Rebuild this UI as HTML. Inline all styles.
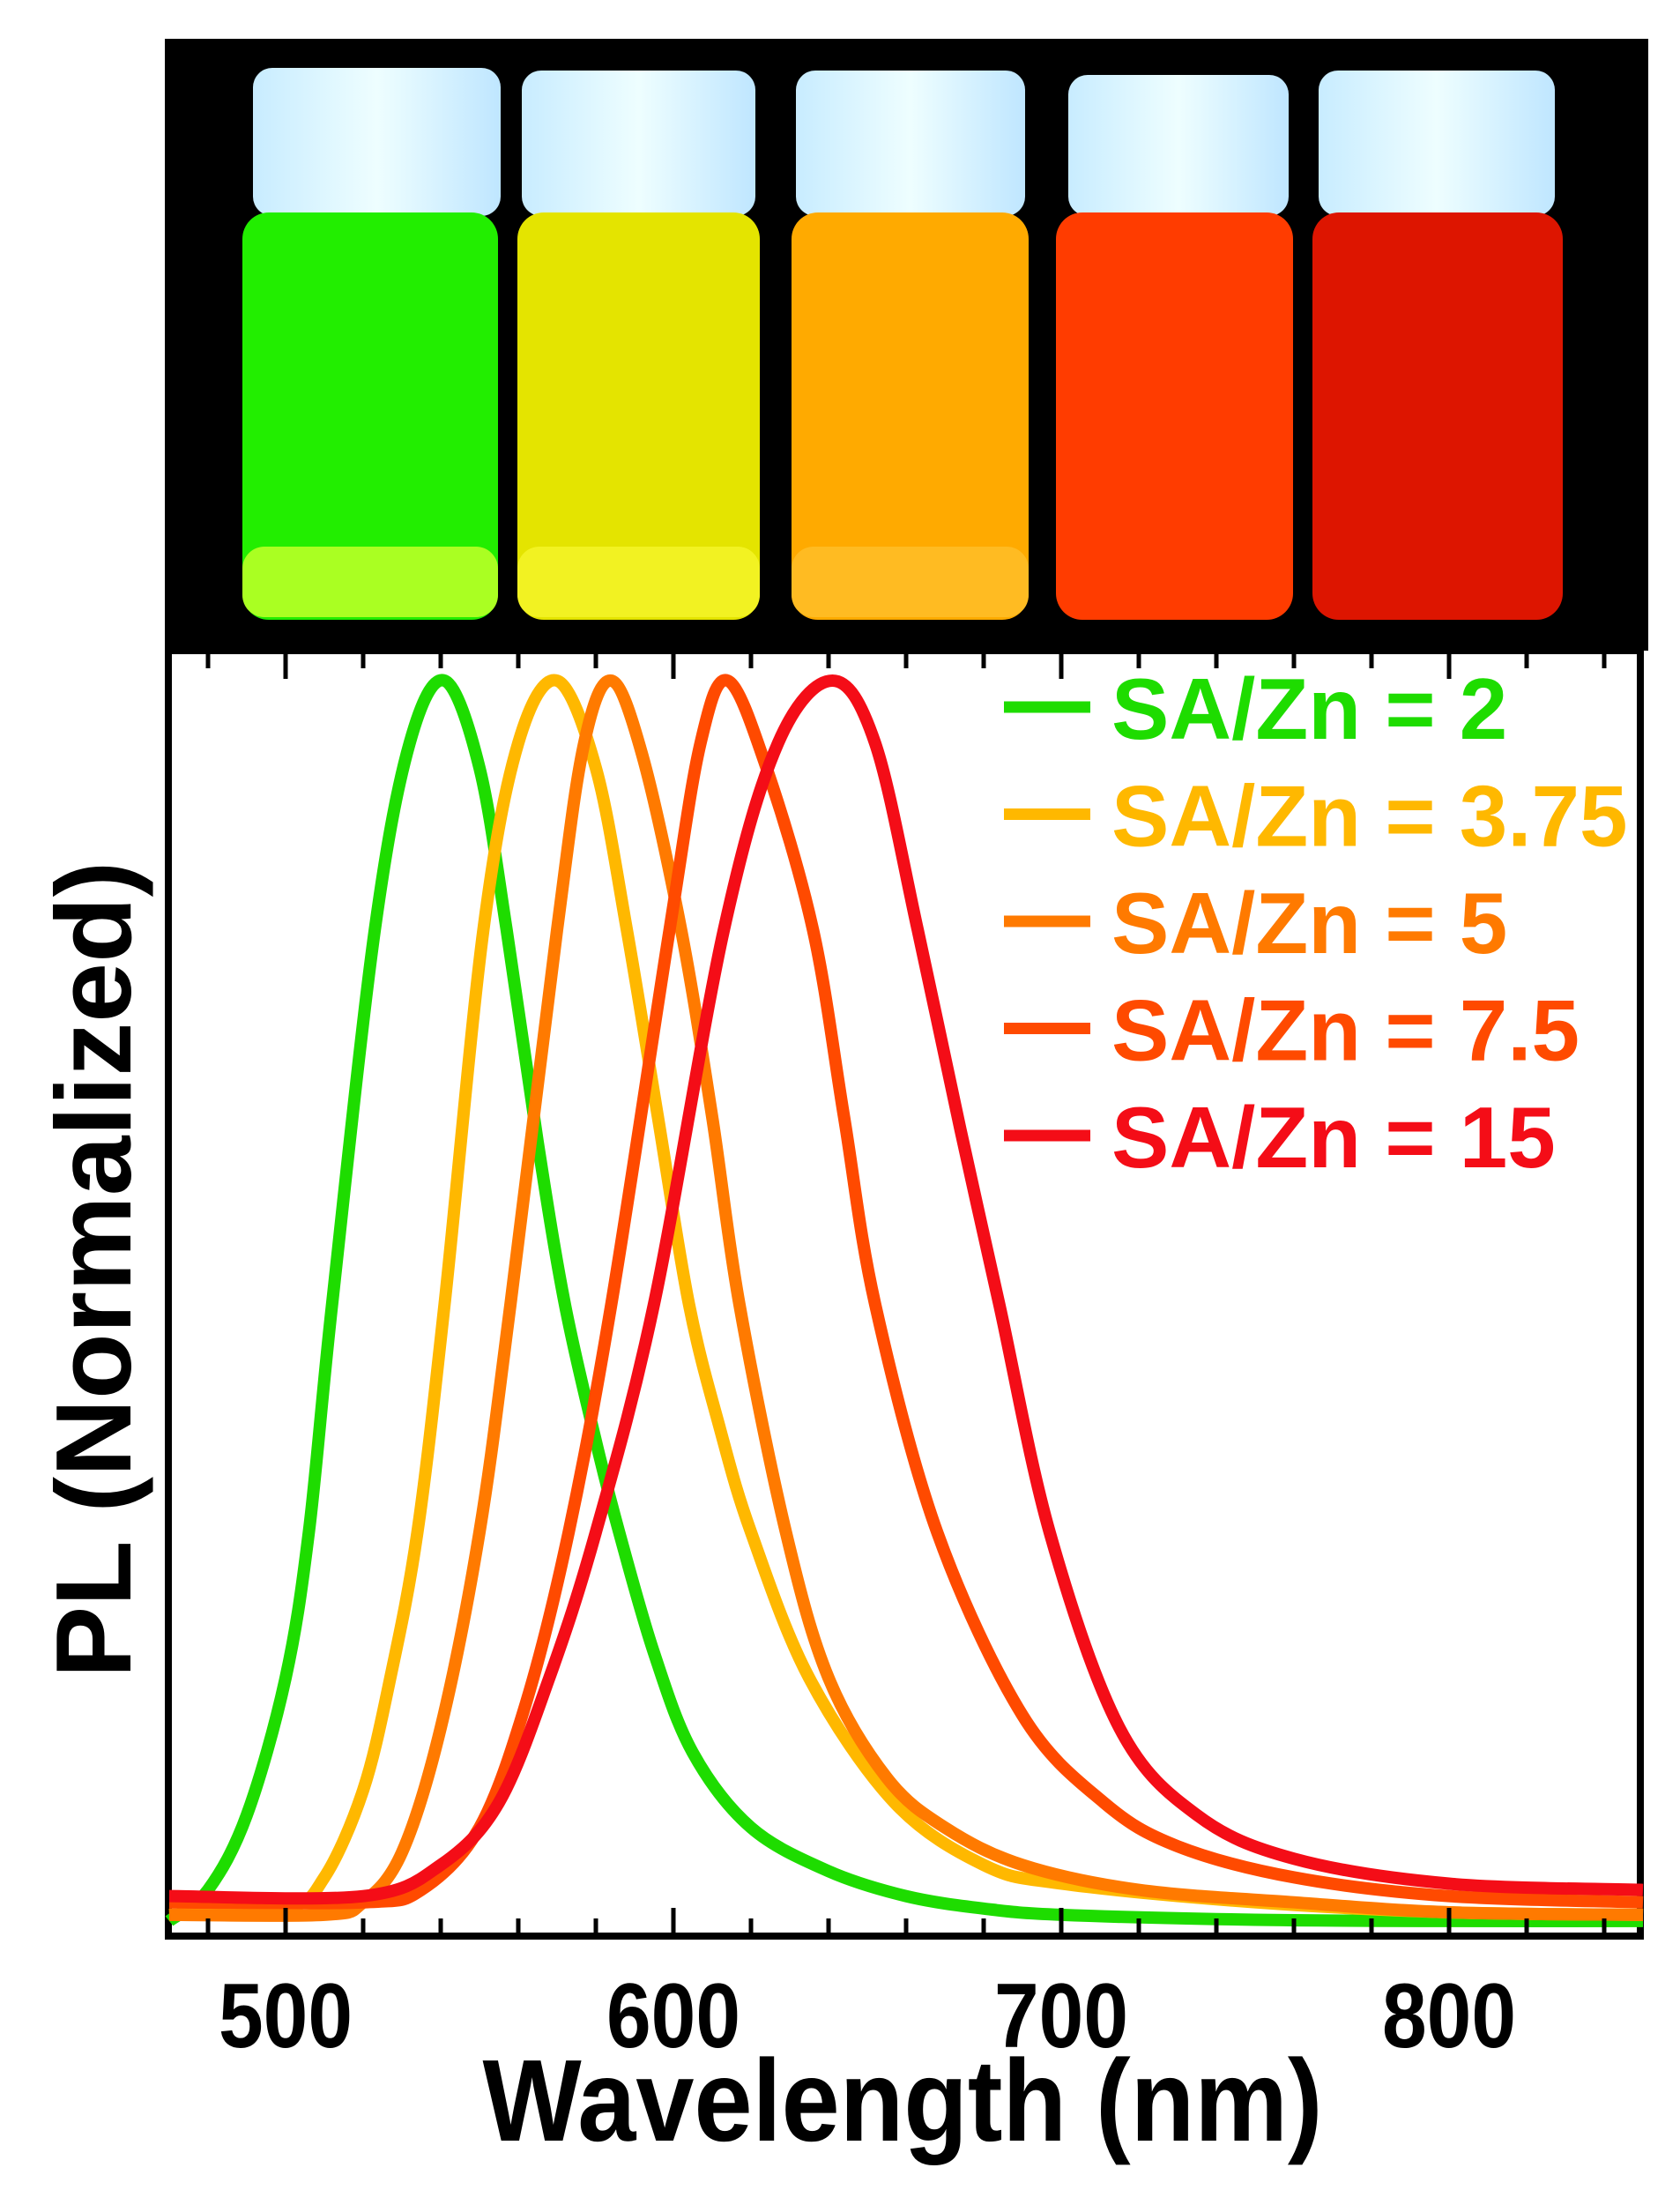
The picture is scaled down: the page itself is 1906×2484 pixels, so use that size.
<!DOCTYPE html>
<html><head><meta charset="utf-8"><style>
html,body{margin:0;padding:0;background:#fff}
svg{display:block}
text{font-family:"Liberation Sans",Arial,sans-serif;font-weight:bold}
</style></head><body>
<svg id="fig" width="1906" height="2484" viewBox="0 0 1906 2484" xmlns="http://www.w3.org/2000/svg">
<defs>
<linearGradient id="capg" x1="0" x2="1"><stop offset="0" stop-color="#c8ecff"/><stop offset="0.5" stop-color="#eefeff"/><stop offset="1" stop-color="#bfe6ff"/></linearGradient>
</defs>
<g>
<rect x="187" y="44" width="1683" height="694" fill="#000"/>
<g>
<rect x="287" y="77" width="281" height="168" rx="22" fill="url(#capg)"/>
<rect x="275" y="241" width="290" height="462" rx="30" fill="#22ee00"/>
<rect x="275" y="620" width="290" height="80" rx="25" fill="#aaff22"/></g>
<g>
<rect x="592" y="80" width="265" height="165" rx="22" fill="url(#capg)"/>
<rect x="587" y="241" width="275" height="462" rx="30" fill="#e4e400"/>
<rect x="587" y="620" width="275" height="80" rx="25" fill="#f2f222"/></g>
<g>
<rect x="903" y="80" width="260" height="165" rx="22" fill="url(#capg)"/>
<rect x="898" y="241" width="269" height="462" rx="30" fill="#ffaa00"/>
<rect x="898" y="620" width="269" height="80" rx="25" fill="#ffbb22"/></g>
<g>
<rect x="1212" y="85" width="250" height="160" rx="22" fill="url(#capg)"/>
<rect x="1198" y="241" width="269" height="462" rx="30" fill="#ff3c00"/></g>
<g>
<rect x="1496" y="80" width="268" height="165" rx="22" fill="url(#capg)"/>
<rect x="1489" y="241" width="284" height="462" rx="30" fill="#dd1500"/></g>
</g>
<g id="plot">
<rect x="191" y="738" width="1670" height="1458" fill="#fff" stroke="#000" stroke-width="8"/>
<g id="curves"></g>
<g id="ticks"></g>
<g id="ticklabels"></g>
<text x="1024" y="2428" text-anchor="middle" font-size="132" textLength="953" lengthAdjust="spacingAndGlyphs">Wavelength (nm)</text>
<text transform="translate(148,1440) rotate(-90)" text-anchor="middle" font-size="122">PL (Normalized)</text>
<g id="legend"></g>
</g>
</svg>
<script>
const seriesLabels = ["SA/Zn = 2","SA/Zn = 3.75","SA/Zn = 5","SA/Zn = 7.5","SA/Zn = 15"];
const seriesColors = ["#1edc00","#ffb800","#ff7a00","#ff4a00","#f40d17"];
const wlGreen  = [470,480,490,500,506,512,523,532,541,550,557,565,572,580,586,595,605,620,640,660,680,700,750,800,850];
const pGreen   = [0.005,0.03,0.09,0.2,0.317,0.5,0.8,0.95,1.0,0.93,0.8,0.63,0.5,0.39,0.317,0.22,0.14,0.08,0.045,0.025,0.015,0.01,0.006,0.005,0.005];
const wlYellow = [470,500,510,520,527,534,541,551,560,570,580,588,596,604,612,620,635,657,680,700,750,800,850];
const pYellow  = [0.01,0.015,0.04,0.11,0.2,0.317,0.5,0.8,0.95,1.0,0.93,0.8,0.65,0.5,0.4,0.317,0.2,0.1,0.05,0.035,0.02,0.012,0.01];
const wlOrange = [470,510,520,530,540,550,558,570,577,584,592,602,610,617,629,640,655,670,690,720,760,800,850];
const pOrange  = [0.01,0.01,0.02,0.06,0.16,0.317,0.5,0.8,0.95,1.0,0.94,0.8,0.65,0.5,0.317,0.2,0.12,0.08,0.05,0.03,0.02,0.012,0.01];
const wlRedOr  = [470,520,535,550,562,573,584,599,607,614,624,636,644,652,668,690,711,730,760,800,850];
const pRedOr   = [0.02,0.02,0.03,0.08,0.18,0.317,0.5,0.8,0.95,1.0,0.93,0.8,0.65,0.5,0.317,0.17,0.1,0.065,0.04,0.025,0.02];
const wlRed    = [470,520,540,555,568,580,595,613,627,641,652,663,674,684,697,715,735,760,800,850];
const pRed     = [0.025,0.025,0.05,0.1,0.2,0.317,0.5,0.8,0.95,1.0,0.95,0.8,0.64,0.5,0.317,0.16,0.09,0.055,0.035,0.03];
const allWl = [wlGreen,wlYellow,wlOrange,wlRedOr,wlRed];
const allP = [pGreen,pYellow,pOrange,pRedOr,pRed];
const xTicks = [500,600,700,800];
const ns="http://www.w3.org/2000/svg";
const xS = w => 324 + (w-500)*4.4;
const yS = v => 2186 - v*1414;
function path(ws,arr){
  const p = ws.map((w,i)=>[xS(w),yS(arr[i])]);
  let d = "M"+p[0][0]+","+p[0][1];
  for(let i=0;i<p.length-1;i++){
    const p0=p[Math.max(0,i-1)],p1=p[i],p2=p[i+1],p3=p[Math.min(p.length-1,i+2)];
    const c1=[p1[0]+(p2[0]-p0[0])/6,p1[1]+(p2[1]-p0[1])/6];
    const c2=[p2[0]-(p3[0]-p1[0])/6,p2[1]-(p3[1]-p1[1])/6];
    d+=" C"+c1[0].toFixed(1)+","+c1[1].toFixed(1)+" "+c2[0].toFixed(1)+","+c2[1].toFixed(1)+" "+p2[0].toFixed(1)+","+p2[1].toFixed(1);
  }
  return d;
}
const cg=document.getElementById("curves");
allP.forEach((s,i)=>{
  const el=document.createElementNS(ns,"path");
  el.setAttribute("d",path(allWl[i],s));
  el.setAttribute("fill","none");
  el.setAttribute("stroke",seriesColors[i]);
  el.setAttribute("stroke-width","14");
  el.setAttribute("stroke-linejoin","round");
  
  
  cg.appendChild(el);
});
const tg=document.getElementById("ticks");
for(let w=480;w<=840;w+=20){
  const major = w%100===0;
  const len = major?28:16;
  [[2192,2192-len],[742,742+len]].forEach(([a,b])=>{
    const t=document.createElementNS(ns,"line");
    t.setAttribute("x1",xS(w));t.setAttribute("x2",xS(w));
    t.setAttribute("y1",a);t.setAttribute("y2",b);
    t.setAttribute("stroke","#000");t.setAttribute("stroke-width","5");
    
    
    tg.appendChild(t);
  });
}
const lg=document.getElementById("ticklabels");
xTicks.forEach(w=>{
  const t=document.createElementNS(ns,"text");
  t.setAttribute("x",xS(w));t.setAttribute("y",2322);
  t.setAttribute("text-anchor","middle");t.setAttribute("font-size","104");
  t.setAttribute("textLength","152");t.setAttribute("lengthAdjust","spacingAndGlyphs");
  t.textContent=w;
  
  
  lg.appendChild(t);
});
const leg=document.getElementById("legend");
seriesLabels.forEach((lab,i)=>{
  const cy=802+i*121.5;
  const l=document.createElementNS(ns,"line");
  l.setAttribute("x1",1139);l.setAttribute("x2",1237);l.setAttribute("y1",cy);l.setAttribute("y2",cy);
  l.setAttribute("stroke",seriesColors[i]);l.setAttribute("stroke-width","13");
  
  
  leg.appendChild(l);
  const t=document.createElementNS(ns,"text");
  t.setAttribute("x",1261);t.setAttribute("y",cy+36);
  t.setAttribute("font-size","98");t.setAttribute("fill",seriesColors[i]);
  t.textContent=lab;
  
  
  leg.appendChild(t);
});
</script>
</body></html>
